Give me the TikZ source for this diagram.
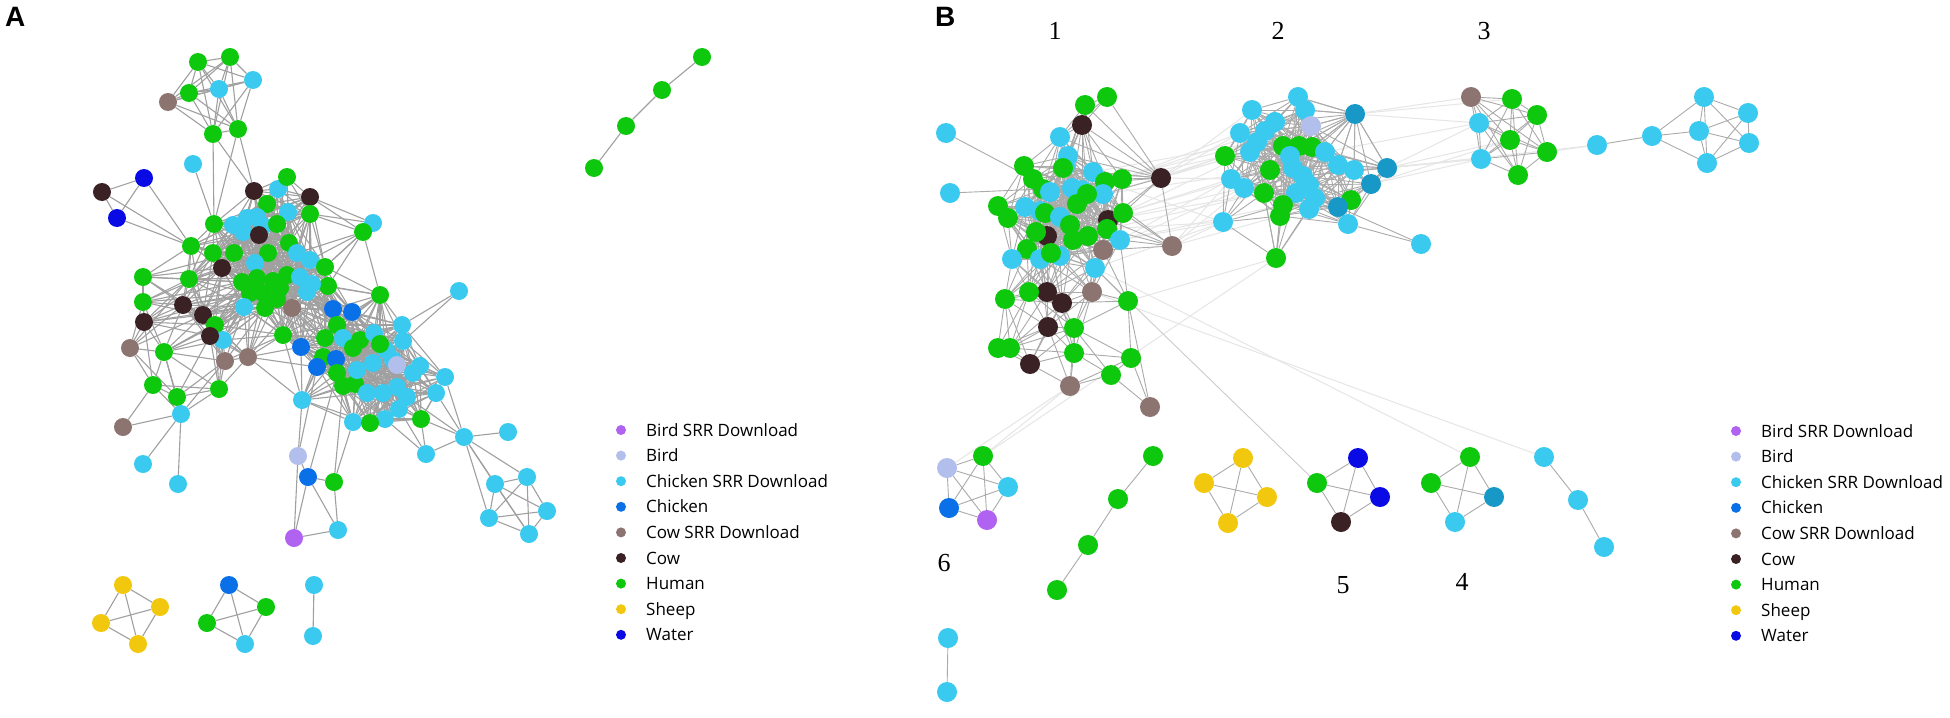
\documentclass[tikz,border=0pt]{standalone}
\usepackage{fontspec}
\setmainfont{Open Sans}
\newfontfamily\numfont{Liberation Serif}
\newfontfamily\panfont{Liberation Sans}
\pgfdeclarelayer{back}
\pgfdeclarelayer{bg}
\pgfsetlayers{back,bg,main}
\definecolor{bs}{RGB}{176,98,240}
\definecolor{bd}{RGB}{178,190,236}
\definecolor{cs}{RGB}{58,202,240}
\definecolor{ck}{RGB}{10,112,232}
\definecolor{ws}{RGB}{140,116,112}
\definecolor{cw}{RGB}{58,34,36}
\definecolor{hu}{RGB}{14,200,14}
\definecolor{sh}{RGB}{242,200,14}
\definecolor{wa}{RGB}{10,10,228}
\definecolor{tl}{RGB}{24,152,198}
\definecolor{edgegray}{RGB}{160,160,160}
\definecolor{edgegrayB}{RGB}{170,170,170}
\definecolor{faintgray}{RGB}{230,230,230}
\tikzset{
  nA/.style={circle,inner sep=0pt,minimum size=18pt,draw=none},
  nB/.style={circle,inner sep=0pt,minimum size=20pt,draw=none},
  eA/.style={draw=edgegray,line width=1.1pt},
  eB/.style={draw=edgegrayB,line width=0.9pt},
  eF/.style={draw=faintgray,line width=1pt},
  legdot/.style={circle,inner sep=0pt,minimum size=10pt,draw=none},
  legtxt/.style={anchor=base west,inner sep=0pt,font=\fontsize{17}{20}\selectfont},
  numlab/.style={anchor=base,inner sep=0pt,font=\numfont\fontsize{26}{30}\selectfont},
  panlab/.style={anchor=base west,inner sep=0pt,font=\panfont\bfseries\fontsize{28}{32}\selectfont}
}
\newcommand\netlink[4]{%
  \foreach \i in {1,...,#3}{%
    \foreach \j in {\i,...,#3}{%
      \ifnum\j>\i\relax
        \pgfpointdiff{\pgfpointanchor{#2\i}{center}}{\pgfpointanchor{#2\j}{center}}%
        \pgfgetlastxy{\mydx}{\mydy}%
        \pgfmathtruncatemacro\myok{veclen(\mydx,\mydy)<#4}%
        \ifnum\myok=1 \draw[#1] (#2\i) -- (#2\j);\fi
      \fi
    }%
  }%
}
\newcommand\cliq[2]{%
  \foreach \p [count=\i] in {#2}{%
    \foreach \q [count=\j] in {#2}{%
      \ifnum\j>\i\relax \draw[#1] (\p) -- (\q);\fi
    }%
  }%
}
\begin{document}
\begin{tikzpicture}[x=1pt,y=-1pt]
\useasboundingbox (0,0) rectangle (1950,717);
\begin{pgfonlayer}{back}
\fill[white] (0,0) rectangle (1950,717);
\end{pgfonlayer}
% ---------------- panel A ----------------
\node[panlab] (pa) at (5,27) {A};
% top cluster
\foreach \px/\py/\c [count=\k] in {198/62/hu,230/57/hu,253/80/cs,219/89/cs,189/93/hu,168/102/ws,213/134/hu,238/129/hu}
  \node[nA,fill=\c] (t\k) at (\px,\py) {};
% core
\foreach \px/\py/\c [count=\k] in {
254/191/cw,278/189/cs,287/177/hu,310/197/cw,310/214/hu,288/212/cs,267/204/hu,373/223/cs,363/232/hu,214/224/hu,
233/225/cs,247/218/cs,257/217/cs,263/226/cs,243/232/cs,259/235/cw,277/224/hu,191/246/hu,213/253/hu,234/253/hu,
268/253/hu,289/243/hu,297/253/cs,310/260/cs,325/267/hu,328/286/hu,255/263/cs,222/268/cw,143/277/hu,189/279/hu,
143/302/hu,183/305/cw,203/315/cw,144/322/cw,242/282/hu,257/278/hu,273/281/hu,287/275/hu,250/293/hu,263/293/hu,
280/288/hu,277/299/hu,300/277/cs,312/284/cs,307/292/cs,244/307/cs,265/308/hu,292/308/ws,380/295/hu,333/309/ck,
352/312/ck,215/325/hu,223/340/cs,210/336/cw,130/348/ws,164/352/hu,225/361/ws,248/357/ws,283/335/hu,301/347/ck,
337/325/hu,325/338/hu,343/338/cs,323/357/hu,336/359/ck,317/367/ck,360/340/hu,353/348/hu,374/333/cs,386/350/cs,
380/344/hu,393/360/cs,397/365/bd,402/325/cs,403/341/cs,420/366/cs,413/373/cs,445/377/cs,436/393/cs,337/373/hu,
343/386/hu,355/384/hu,357/370/cs,373/363/cs,367/393/cs,383/393/cs,397/387/cs,407/397/cs,399/409/cs,353/422/cs,
385/419/cs,370/423/hu,421/419/hu,302/400/cs,153/385/hu,177/397/hu,219/389/hu,181/414/cs}
  \node[nA,fill=\c] (m\k) at (\px,\py) {};
% extra A nodes
\foreach \px/\py/\c [count=\k] in {193/164/cs,144/178/wa,102/192/cw,117/218/wa,459/291/cs,464/437/cs,508/432/cs,426/454/cs,
495/484/cs,527/477/cs,547/511/cs,489/518/cs,529/534/cs,123/427/ws,143/464/cs,178/484/cs,298/456/bd,308/477/ck,334/482/hu,338/530/cs,294/538/bs}
  \node[nA,fill=\c] (x\k) at (\px,\py) {};
% chain top right
\foreach \px/\py [count=\k] in {702/57,662/90,626/126,594/168}
  \node[nA,fill=hu] (g\k) at (\px,\py) {};
% bottom groups
\foreach \px/\py [count=\k] in {123/585,160/607,101/623,138/644}
  \node[nA,fill=sh] (s\k) at (\px,\py) {};
\foreach \px/\py/\c [count=\k] in {229/585/ck,266/607/hu,207/623/hu,245/644/cs}
  \node[nA,fill=\c] (q\k) at (\px,\py) {};
\node[nA,fill=cs] (p1) at (314,585) {};
\node[nA,fill=cs] (p2) at (313,636) {};
% ---------------- panel B ----------------
\node[panlab] (pb) at (935,27) {B};
\node[numlab] (n1) at (1055,40) {1};
\node[numlab] (n2) at (1278,40) {2};
\node[numlab] (n3) at (1484,40) {3};
\node[numlab] (n6) at (944,571) {6};
\node[numlab] (n5) at (1343,593) {5};
\node[numlab] (n4) at (1462,590) {4};
\foreach \px/\py/\c [count=\k] in {
1107/97/hu,1085/105/hu,1082/125/cw,1060/137/cs,1161/178/cw,1024/166/hu,1033/179/hu,1043/189/hu,1068/156/cs,1065/166/cs,
1093/172/cs,1122/179/hu,998/206/hu,1008/218/hu,1025/207/cs,1040/211/cs,1063/168/hu,1105/182/hu,1072/188/cs,1082/190/cs,
1103/194/cs,1087/194/hu,1077/204/hu,1050/192/cs,1045/213/hu,1060/217/cs,1070/225/hu,1108/220/cw,1123/213/hu,1107/229/hu,
1047/236/cw,1036/232/hu,1073/240/hu,1120/240/cs,1103/250/ws,1172/246/ws,1027/249/hu,1012/259/cs,1040/259/cs,1060/256/cs,
1095/268/cs,1088/236/hu,1051/253/hu,1092/292/ws,1047/292/cw,1062/303/cw,1005/299/hu,1029/292/hu,1128/301/hu,1048/327/cw,
1074/328/hu,998/348/hu,1010/348/hu,1074/353/hu,1131/358/hu,1030/364/cw,1070/386/ws,1111/375/hu,1150/407/ws}
  \node[nB,fill=\c] (b\k) at (\px,\py) {};
\node[nB,fill=cs] (bx1) at (946,133) {};
\node[nB,fill=cs] (bx2) at (950,193) {};
\foreach \px/\py/\c [count=\k] in {
1298/97/cs,1305/110/cs,1311/126/bd,1355/114/tl,1252/110/cs,1275/122/cs,1265/131/cs,1240/133/cs,1257/142/cs,1283/146/hu,
1299/146/hu,1312/147/hu,1250/152/cs,1225/156/hu,1290/156/cs,1325/152/cs,1338/165/cs,1354/170/cs,1387/168/tl,1270/170/hu,
1293/168/cs,1303/176/cs,1309/185/cs,1231/179/cs,1244/188/cs,1371/184/tl,1264/193/hu,1296/193/cs,1315/198/cs,1351/200/hu,
1338/207/tl,1283/205/hu,1280/216/hu,1309/209/cs,1223/222/cs,1348/224/cs,1421/244/cs,1276/258/hu}
  \node[nB,fill=\c] (c\k) at (\px,\py) {};
\foreach \px/\py/\c [count=\k] in {1471/97/ws,1512/99/hu,1537/115/hu,1479/123/cs,1510/140/hu,1547/152/hu,1481/159/cs,1518/175/hu}
  \node[nB,fill=\c] (d\k) at (\px,\py) {};
\foreach \px/\py [count=\k] in {1597/145,1652/136,1704/97,1748/113,1699/131,1749/143,1707/163}
  \node[nB,fill=cs] (e\k) at (\px,\py) {};
\foreach \px/\py/\c [count=\k] in {947/468/bd,983/456/hu,1008/487/cs,949/508/ck,987/520/bs}
  \node[nB,fill=\c] (f\k) at (\px,\py) {};
\node[nB,fill=cs] (pr1) at (948,638) {};
\node[nB,fill=cs] (pr2) at (947,692) {};
\foreach \px/\py [count=\k] in {1153/456,1118/499,1088/545,1057/590}
  \node[nB,fill=hu] (h\k) at (\px,\py) {};
\foreach \px/\py [count=\k] in {1243/458,1204/483,1267/497,1228/523}
  \node[nB,fill=sh] (k\k) at (\px,\py) {};
\foreach \px/\py/\c [count=\k] in {1358/458/wa,1317/483/hu,1380/497/wa,1341/522/cw}
  \node[nB,fill=\c] (w\k) at (\px,\py) {};
\foreach \px/\py/\c [count=\k] in {1470/457/hu,1431/483/hu,1494/497/tl,1455/522/cs}
  \node[nB,fill=\c] (v\k) at (\px,\py) {};
\foreach \px/\py [count=\k] in {1544/457,1578/500,1604/547}
  \node[nB,fill=cs] (u\k) at (\px,\py) {};
% ---------------- legends ----------------
\foreach \c/\t [count=\k] in {bs/Bird SRR Download,bd/Bird,cs/Chicken SRR Download,ck/Chicken,ws/Cow SRR Download,cw/Cow,hu/Human,sh/Sheep,wa/Water}{
  \node[legdot,fill=\c] (la\k) at (621,{430+25.6*(\k-1)}) {};
  \node[legtxt] (lta\k) at (646,{436+25.6*(\k-1)}) {\t};
  \node[legdot,fill=\c] (lb\k) at (1736,{431+25.6*(\k-1)}) {};
  \node[legtxt] (ltb\k) at (1761,{437+25.6*(\k-1)}) {\t};
}
% ---------------- edges ----------------
\begin{pgfonlayer}{bg}
% faint long edges in B
\foreach \p/\q in {b5/c14,b5/c13,b5/c24,b12/c14,b12/c8,b18/c35,b29/c24,b36/c35,b36/c25,b28/c27,b34/c32,b21/c20,b11/c9,b5/c5,b34/c35,b36/c24,b29/c13,
  b12/c7,b18/c9,b23/c14,b28/c25,b30/c35,b34/c24,b36/c33,b5/c8,b21/c13,b29/c20,b35/c25,b41/c35,b30/c27,
  c19/d4,c19/d7,c4/d1,c18/d7,c26/d5,c19/e1,c4/d4,d6/e1,c4/d2,c26/d7,c19/d5,c16/d4,
  b44/u1,b41/v1,f2/b57,f2/c38,f1/b57,b49/c38}
  \draw[eF] (\p) -- (\q);
\draw[eB,draw=edgegrayB!60] (b41) -- (w2);
% panel A
\cliq{eA}{t1,t2,t3,t4,t5,t6,t7,t8}
\netlink{eA}{m}{98}{72}
\foreach \p/\q in {t7/m10,t8/m10,t7/m1,t8/m1,
  m29/m28,m29/m35,m29/m20,m31/m35,m31/m39,m31/m28,m34/m46,m34/m39,m34/m28,m30/m36,m32/m40,m55/m33,m55/m30,m56/m52,m56/m46,
  x1/m10,x2/x3,x2/x4,x2/m18,x3/x4,x3/m18,x4/m18,x5/m75,x5/m74,
  x6/x7,x6/x8,x6/m93,x6/m88,x6/m79,x6/m78,x6/x9,x6/x10,x6/x12,x6/x13,
  x8/m89,x8/m93,x8/m91,
  x14/m95,x14/m98,x15/m98,x16/m98,
  x17/x18,x17/x21,x18/x21,x18/x19,x18/x20,x19/x20,x20/x21,x17/m66,x17/m94,x18/m80,x19/m81,x19/m90,
  g1/g2,g2/g3,g3/g4,p1/p2}
  \draw[eA] (\p) -- (\q);
\cliq{eA}{x9,x10,x11,x12,x13}
\cliq{eA}{s1,s2,s3,s4}
\cliq{eA}{q1,q2,q3,q4}
% panel B
\netlink{eB}{b}{59}{70}
\netlink{eB}{c}{38}{72}
\foreach \p/\q in {bx1/b7,bx2/b8,b5/b1,b5/b2,b5/b3,b5/b4,b5/b9,b5/b11,b36/b21,b59/b49,
  c4/c1,c4/c2,c4/c3,c4/c6,c4/c10,c4/c11,c4/c12,c4/c16,c4/c17,c4/c18,c4/c19,c4/c21,
  c19/c16,c19/c17,c19/c26,c19/c12,c19/c3,c19/c22,c37/c31,c37/c36,c38/c33,c38/c27,
  e1/e2,e2/e3,e2/e5,e2/e7,
  pr1/pr2,h1/h2,h2/h3,h3/h4,u1/u2,u2/u3}
  \draw[eB] (\p) -- (\q);
\cliq{eB}{d1,d2,d3,d4,d5,d6,d7,d8}
\cliq{eB}{e3,e4,e5,e6,e7}
\cliq{eB}{f1,f2,f3,f4,f5}
\cliq{eB}{k1,k2,k3,k4}
\cliq{eB}{w1,w2,w3,w4}
\cliq{eB}{v1,v2,v3,v4}
\end{pgfonlayer}
\end{tikzpicture}
\end{document}
